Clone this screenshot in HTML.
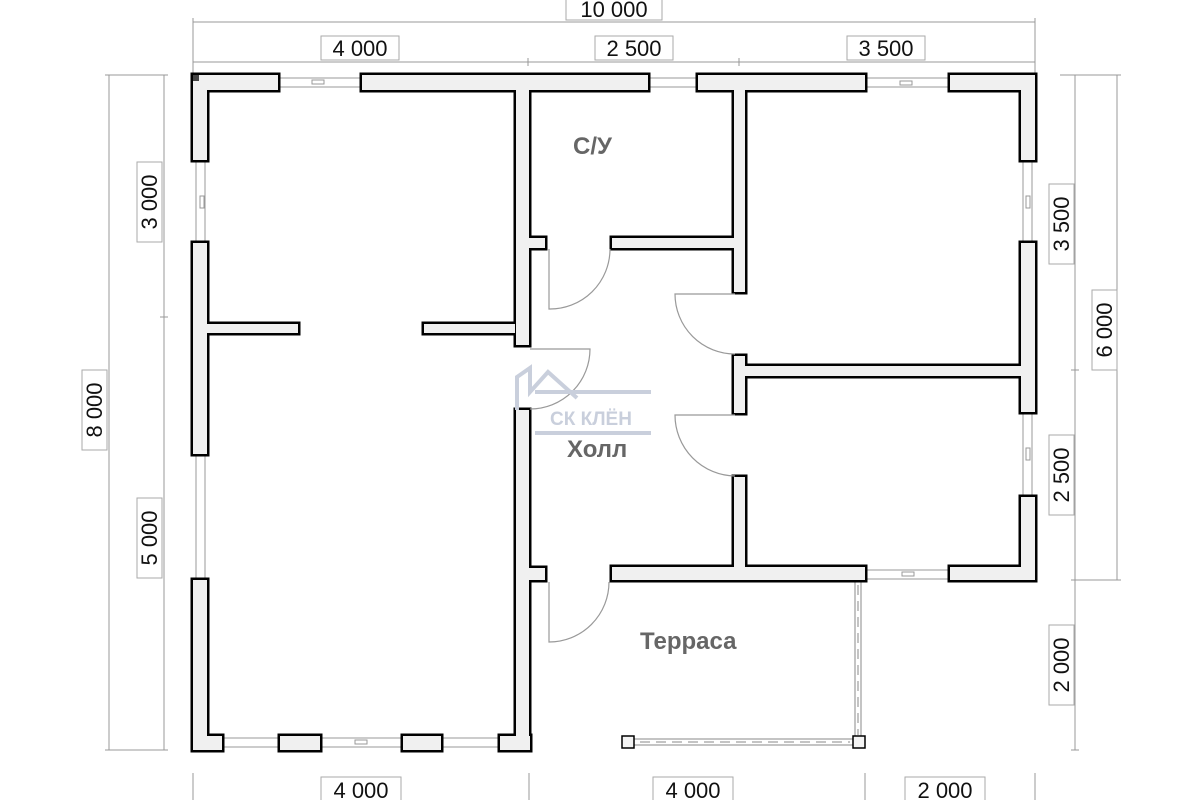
<!DOCTYPE html>
<html><head><meta charset="utf-8"><style>
html,body{margin:0;padding:0;background:#fff;width:1200px;height:800px;overflow:hidden}
svg{display:block}
text{font-family:"Liberation Sans",sans-serif}
</style></head><body>
<svg width="1200" height="800" viewBox="0 0 1200 800" xmlns="http://www.w3.org/2000/svg">
<g stroke="#999" stroke-width="1" fill="none">
<line x1="193" y1="22" x2="1035" y2="22"/>
<line x1="193" y1="62" x2="1035" y2="62"/>
<line x1="193" y1="18" x2="193" y2="75"/><line x1="1035" y1="18" x2="1035" y2="75"/>
<line x1="528" y1="58" x2="528" y2="66"/><line x1="739" y1="58" x2="739" y2="66"/>
<line x1="109" y1="75" x2="109" y2="750"/><line x1="164" y1="75" x2="164" y2="750"/>
<line x1="105" y1="75" x2="168" y2="75"/><line x1="105" y1="750" x2="168" y2="750"/>
<line x1="160" y1="317" x2="168" y2="317"/>
<line x1="1075" y1="75" x2="1075" y2="750"/><line x1="1117" y1="75" x2="1117" y2="580"/>
<line x1="1060" y1="75" x2="1121" y2="75"/><line x1="1071" y1="370" x2="1079" y2="370"/>
<line x1="1071" y1="580" x2="1121" y2="580"/><line x1="1071" y1="750" x2="1079" y2="750"/>
<line x1="193" y1="773" x2="193" y2="800"/><line x1="529" y1="773" x2="529" y2="800"/>
<line x1="865" y1="773" x2="865" y2="800"/><line x1="1035" y1="773" x2="1035" y2="800"/>
</g>
<g stroke="#999" stroke-width="1" fill="#fff">
<rect x="278" y="78" width="84" height="9"/><rect x="648" y="78" width="50" height="9"/><rect x="865" y="78" width="85" height="9"/>
<rect x="196" y="160" width="9" height="83"/><rect x="196" y="454" width="9" height="126"/>
<rect x="1023" y="160" width="9" height="83"/><rect x="1023" y="412" width="9" height="85"/>
<rect x="865" y="570" width="85" height="9"/>
<rect x="222" y="738" width="308" height="9"/>
<rect x="312" y="80" width="12" height="4"/><rect x="200" y="196" width="4" height="12"/><rect x="1026" y="196" width="4" height="12"/><rect x="1026" y="448" width="4" height="12"/><rect x="900" y="81" width="12" height="4"/><rect x="902" y="572" width="12" height="4"/><rect x="355" y="740" width="12" height="4"/>
</g>
<g stroke="#888" stroke-width="1" fill="none">
<line x1="855" y1="582" x2="855" y2="738"/><line x1="861" y1="582" x2="861" y2="738"/>
<line x1="634" y1="739" x2="853" y2="739"/><line x1="634" y1="745" x2="853" y2="745"/>
<line x1="858" y1="585" x2="858" y2="735" stroke-dasharray="10 6"/>
<line x1="640" y1="742" x2="850" y2="742" stroke-dasharray="10 6"/>
</g>
<g stroke="#000" stroke-width="1.5" fill="#f4f4f4">
<rect x="622" y="736" width="12" height="12"/><rect x="853" y="736" width="12" height="12"/>
</g>
<defs>
<g id="w">
<rect x="193" y="75" width="85" height="15"/>
<rect x="362" y="75" width="286" height="15"/>
<rect x="698" y="75" width="167" height="15"/>
<rect x="950" y="75" width="85" height="15"/>
<rect x="193" y="75" width="14" height="85"/>
<rect x="193" y="243" width="14" height="211"/>
<rect x="193" y="580" width="14" height="170"/>
<rect x="193" y="736" width="29" height="14"/>
<rect x="280" y="736" width="40" height="14"/>
<rect x="403" y="736" width="38" height="14"/>
<rect x="500" y="736" width="30" height="14"/>
<rect x="207" y="324" width="91" height="9"/>
<rect x="424" y="324" width="91" height="9"/>
<rect x="516" y="75" width="13" height="270"/>
<rect x="516" y="410" width="13" height="340"/>
<rect x="529" y="238" width="16" height="10"/>
<rect x="612" y="238" width="122" height="10"/>
<rect x="529" y="568" width="16" height="12"/>
<rect x="734" y="75" width="11" height="217"/>
<rect x="734" y="356" width="11" height="57"/>
<rect x="734" y="477" width="11" height="96"/>
<rect x="745" y="366" width="280" height="10"/>
<rect x="1021" y="75" width="14" height="85"/>
<rect x="1021" y="243" width="14" height="169"/>
<rect x="1021" y="497" width="14" height="83"/>
<rect x="612" y="567" width="253" height="13"/>
<rect x="950" y="567" width="85" height="13"/>
</g>
</defs>
<use href="#w" fill="#000" stroke="#000" stroke-width="5"/>
<use href="#w" fill="#f0f0f0"/>
<rect x="193" y="75" width="6" height="6" fill="#444"/>
<g stroke="#999" stroke-width="1.2" fill="none">
<path d="M549 249 L549 309 A60 60 0 0 0 610 249"/>
<path d="M530 349 L590 349 A60 60 0 0 1 530 409"/>
<path d="M735 294 L675 294 A60 60 0 0 0 735 354"/>
<path d="M735 415 L675 415 A61 61 0 0 0 735 476"/>
<path d="M549 582 L549 642 A60 60 0 0 0 609 582"/>
</g>
<g stroke="#c9cfdc" stroke-width="4" fill="none">
<path d="M517 410 L517 377 L530 368 L530 392 L548 372 L577 398"/>
<line x1="535" y1="392" x2="651" y2="392"/>
<line x1="535" y1="433" x2="651" y2="433"/>
</g>
<text x="550" y="425" font-size="19" font-weight="bold" fill="#c9cfdc">СК КЛЁН</text>
<g font-weight="bold" fill="#666" font-size="24">
<text x="573" y="154">С/У</text>
<text x="567" y="457">Холл</text>
<text x="640" y="649">Терраса</text>
</g>
<g font-size="22" fill="#111">
<g stroke="#aaa" stroke-width="1" fill="#fff">
<rect x="566" y="-2" width="96" height="22"/>
<rect x="321" y="36" width="78" height="24"/><rect x="595" y="36" width="78" height="24"/><rect x="847" y="36" width="78" height="24"/>
<rect x="137" y="162" width="25" height="80"/><rect x="137" y="498" width="25" height="80"/><rect x="82" y="370" width="25" height="80"/>
<rect x="1049" y="184" width="25" height="80"/><rect x="1049" y="435" width="25" height="80"/><rect x="1049" y="625" width="25" height="80"/><rect x="1092" y="290" width="25" height="80"/>
<rect x="321" y="777" width="80" height="25"/><rect x="653" y="777" width="80" height="25"/><rect x="905" y="777" width="80" height="25"/>
</g>
<text x="614" y="17" text-anchor="middle">10 000</text>
<text x="360" y="56" text-anchor="middle">4 000</text>
<text x="634" y="56" text-anchor="middle">2 500</text>
<text x="886" y="56" text-anchor="middle">3 500</text>
<text x="361" y="798" text-anchor="middle">4 000</text>
<text x="693" y="798" text-anchor="middle">4 000</text>
<text x="945" y="798" text-anchor="middle">2 000</text>
<text transform="translate(157 202) rotate(-90)" text-anchor="middle">3 000</text>
<text transform="translate(157 538) rotate(-90)" text-anchor="middle">5 000</text>
<text transform="translate(102 410) rotate(-90)" text-anchor="middle">8 000</text>
<text transform="translate(1069 224) rotate(-90)" text-anchor="middle">3 500</text>
<text transform="translate(1069 475) rotate(-90)" text-anchor="middle">2 500</text>
<text transform="translate(1069 665) rotate(-90)" text-anchor="middle">2 000</text>
<text transform="translate(1112 330) rotate(-90)" text-anchor="middle">6 000</text>
</g>
</svg>
</body></html>
